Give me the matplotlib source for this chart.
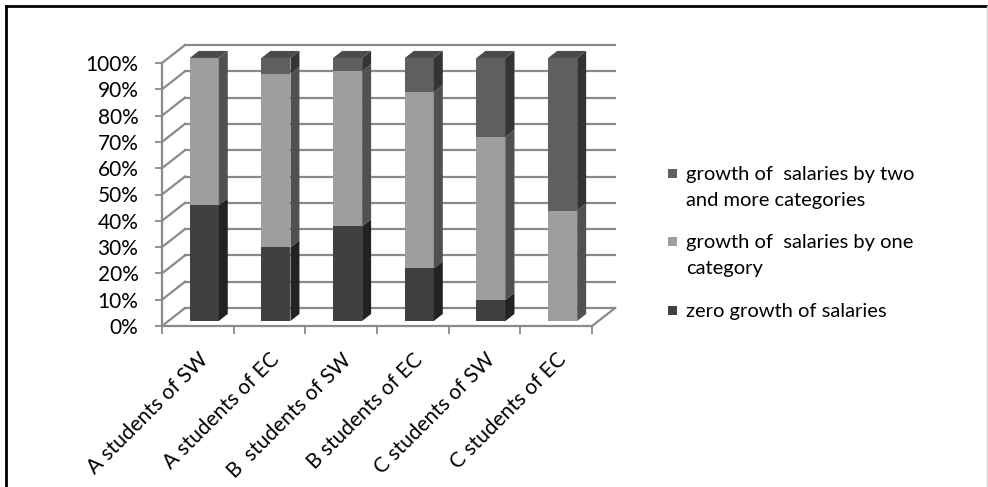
import matplotlib
matplotlib.use('Agg')
import matplotlib.pyplot as plt
from matplotlib.patches import Polygon, Rectangle
from matplotlib.lines import Line2D

categories = ['A students of SW', 'A students of EC', 'B  students of SW',
              'B students of EC', 'C students of SW', 'C students of EC']
zero_growth = [44, 28, 36, 20, 8, 0]
one_category = [56, 66, 59, 67, 62, 42]
two_or_more = [0, 6, 5, 13, 30, 58]
y_ticks = [0, 10, 20, 30, 40, 50, 60, 70, 80, 90, 100]

# (label, values, front colour, side colour) from the bottom of the stack up
series = [
    ('zero growth of salaries', zero_growth, '#404040', '#222222'),
    ('growth of  salaries by one\ncategory', one_category, '#9e9e9e', '#515151'),
    ('growth of  salaries by two\nand more categories', two_or_more, '#5f5f5f', '#343434'),
]
top_colour = '#4b4b4b'

plt.rcParams['font.family'] = ['Lato', 'DejaVu Sans']

W, H = 988, 487
fig = plt.figure(figsize=(W / 100, H / 100), dpi=100)

# wall depth (category units, percent units) and bar placement within it
DX, DY = 0.321, 6.84
BW = 0.405
D0, D1 = 0.28, 0.67
grid_c = '#8a8a8a'

ax = fig.add_axes([162 / W, 1 - 326 / H, 454.5 / W, 107.2 * 2.63 / H])
ax.set_xlim(0, 6 + DX + 0.02)
ax.set_ylim(0, 107.2)
ax.patch.set_visible(False)

# back wall and side wall gridlines
for v in y_ticks:
    ax.plot([DX, 6 + DX], [v + DY, v + DY], color=grid_c, lw=1.6, zorder=1, clip_on=False)
    ax.plot([0, DX], [v, v + DY], color=grid_c, lw=1.6, zorder=1, clip_on=False)
ax.plot([6, 6 + DX], [0, DY], color=grid_c, lw=1.6, zorder=1, clip_on=False)

# stacked 3-D bars
for i in range(len(categories)):
    x0 = i + 0.5 - BW / 2 + D0 * DX
    x1 = x0 + BW
    bx, by = (D1 - D0) * DX, (D1 - D0) * DY
    base = D0 * DY
    bottom = 0
    for name, vals, face, side in series:
        v = vals[i]
        y0, y1 = base + bottom, base + bottom + v
        if v > 0:
            ax.add_patch(Rectangle((x0, y0), BW, v, facecolor=face, edgecolor='none',
                                   zorder=3, clip_on=False))
            ax.add_patch(Polygon([(x1, y0), (x1 + bx, y0 + by), (x1 + bx, y1 + by), (x1, y1)],
                                 closed=True, facecolor=side, edgecolor='none',
                                 zorder=3, clip_on=False))
        bottom += v
    top = base + bottom
    ax.add_patch(Polygon([(x0, top), (x1, top), (x1 + bx, top + by), (x0 + bx, top + by)],
                         closed=True, facecolor=top_colour, edgecolor='none',
                         zorder=3, clip_on=False))

# axes
for s in ['top', 'right']:
    ax.spines[s].set_visible(False)
for s in ['left', 'bottom']:
    ax.spines[s].set_color(grid_c)
    ax.spines[s].set_linewidth(1.6)
ax.spines['left'].set_bounds(0, 100)
ax.spines['bottom'].set_bounds(0, 6)

ax.set_yticks(y_ticks)
ax.set_yticklabels([f'{v}%' for v in y_ticks])
ax.tick_params(axis='y', length=5, width=1.3, color=grid_c, pad=12, labelsize=15)

ax.set_xticks(range(7))
ax.set_xticklabels([])
ax.set_xticks([i + 0.5 for i in range(6)], minor=True)
ax.set_xticklabels(categories, minor=True, rotation=45, ha='right',
                   rotation_mode='anchor', fontsize=15)
ax.tick_params(axis='x', which='major', length=6, width=1.3, color=grid_c)
ax.tick_params(axis='x', which='minor', length=0, pad=17)

# legend
leg_x = 668 / W
leg_rows = [(series[2], 173), (series[1], 241), (series[0], 310)]
for (name, vals, face, side), ypix in leg_rows:
    fig.add_artist(Rectangle((leg_x, 1 - (ypix + 5) / H), 9 / W, 9 / H,
                             transform=fig.transFigure, facecolor=face, edgecolor='none'))
    fig.text(686 / W, 1 - (ypix - 7) / H, name, ha='left', va='top',
             fontsize=14.5, linespacing=1.65)

# outer frame
fig.add_artist(Line2D([6 / W, 6 / W], [0, 1 - 6 / H], transform=fig.transFigure,
                      color='black', lw=2))
fig.add_artist(Line2D([6 / W, 987 / W], [1 - 6 / H, 1 - 6 / H], transform=fig.transFigure,
                      color='black', lw=2))
fig.add_artist(Line2D([987 / W, 987 / W], [0, 1 - 6 / H], transform=fig.transFigure,
                      color='#d0d0d0', lw=1))

fig.savefig('out.png', dpi=100)
